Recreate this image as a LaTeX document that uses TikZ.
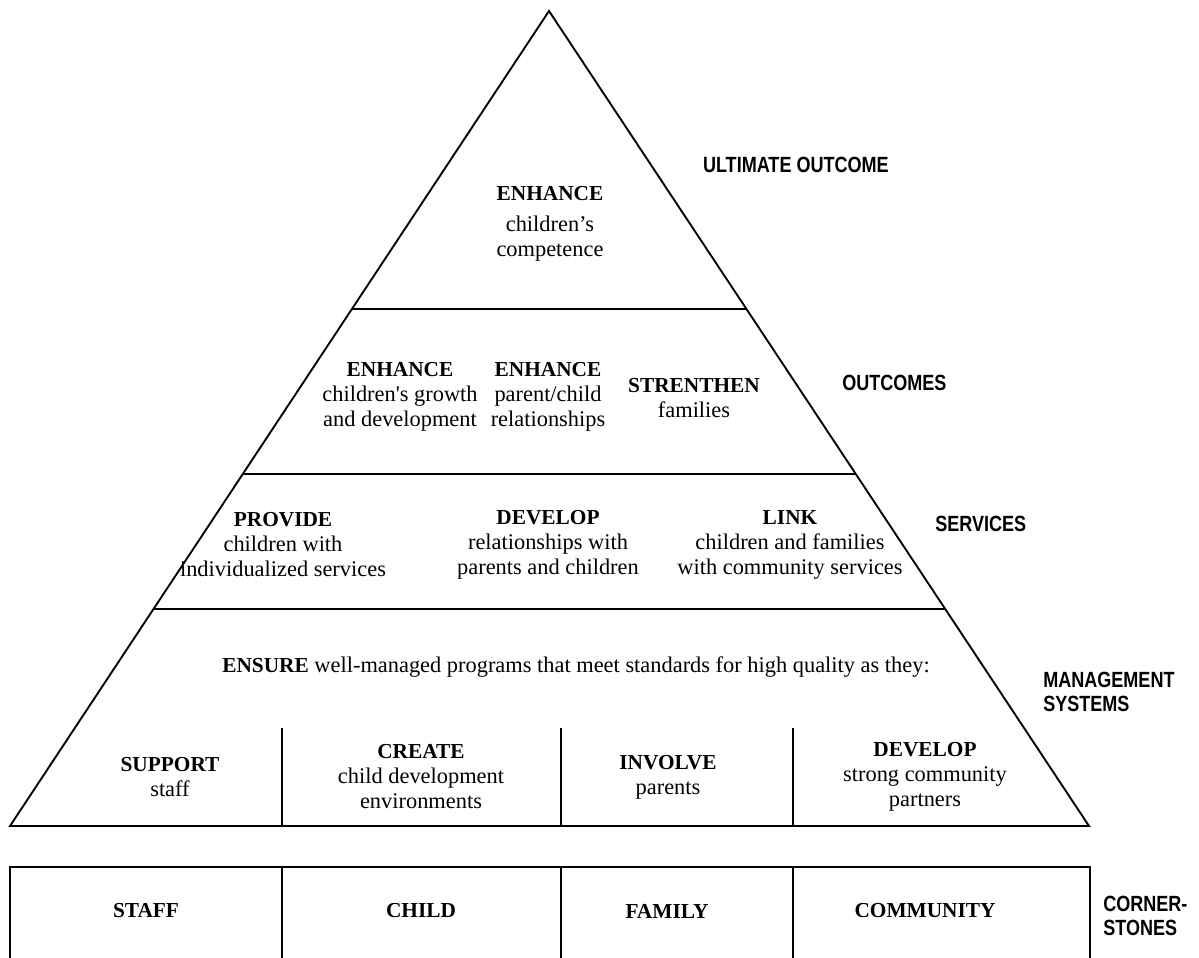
\documentclass[tikz,border=0pt]{standalone}
\usepackage{fontspec}
\setmainfont{Liberation Serif}
\newfontfamily\plainserif{Liberation Serif}
\newfontfamily\labfont[FakeStretch=0.82]{Liberation Sans}
\newcommand\hd[1]{{\fontsize{16}{18.75}\selectfont\bfseries #1}}
\newcommand\apos{{\plainserif'}}
\begin{document}
\begin{tikzpicture}[x=0.75pt,y=-0.75pt,
  edge/.style={line width=1.4pt,line join=miter},
  txt/.style={align=center,inner sep=0pt,font=\fontsize{16.8}{18.75}\selectfont},
  lab/.style={align=left,inner sep=0pt,anchor=west,font=\labfont\bfseries\fontsize{16.5}{18}\selectfont}]
\useasboundingbox (0,0) rectangle (1199,957);
% pyramid
\coordinate (apex) at (549,11);
\coordinate (bl) at (10,826);
\coordinate (br) at (1089,826);
\draw[edge] (bl) -- (apex) -- (br) -- cycle;
\coordinate (l1a) at (352,309); \coordinate (l1b) at (746,309);
\coordinate (l2a) at (242.5,474); \coordinate (l2b) at (855.5,474);
\coordinate (l3a) at (153,609); \coordinate (l3b) at (945,609);
\draw[edge] (l1a) -- (l1b);
\draw[edge] (l2a) -- (l2b);
\draw[edge] (l3a) -- (l3b);
\foreach \xx in {282,561,793}{
  \draw[edge] (\xx,728) -- (\xx,826);
}
% cornerstones box
\draw[edge] (10,962) -- (10,867) -- (1090,867) -- (1090,962);
\foreach \xx in {282,561,793}{
  \draw[edge] (\xx,867) -- (\xx,962);
}
% texts
\node[txt] (t0) at (550,224) {\hd{ENHANCE}\\[4.5pt]children’s\\competence};
\node[txt] (o1) at (400,397) {\hd{ENHANCE}\\children\apos s growth\\and development};
\node[txt] (o2) at (548,397) {\hd{ENHANCE}\\parent/child\\relationships};
\node[txt] (o3) at (694,398) {\hd{STRENTHEN}\\families};
\node[txt] (s1) at (283,545) {\hd{PROVIDE}\\children with\\individualized services};
\node[txt] (s2) at (548,545) {\hd{DEVELOP}\\relationships with\\parents and children};
\node[txt] (s3) at (790,545) {\hd{LINK}\\children and families\\with community services};
\node[txt] (m0) at (576,667) {\hd{ENSURE} well-managed programs that meet standards for high quality as they:};
\node[txt] (m1) at (170,777) {\hd{SUPPORT}\\staff};
\node[txt] (m2) at (421,777) {\hd{CREATE}\\child development\\environments};
\node[txt] (m3) at (668,777) {\hd{INVOLVE}\\parents};
\node[txt] (m4) at (925,777) {\hd{DEVELOP}\\strong community\\partners};
\node[txt] (c1) at (146,911) {\hd{STAFF}};
\node[txt] (c2) at (421,911) {\hd{CHILD}};
\node[txt] (c3) at (667,911) {\hd{FAMILY}};
\node[txt] (c4) at (925,911) {\hd{COMMUNITY}};
% side labels
\node[lab,anchor=east] (L1) at (889,165) {ULTIMATE OUTCOME};
\node[lab] (L2) at (842,383) {OUTCOMES};
\node[lab] (L3) at (935,524) {SERVICES};
\node[lab] (L4) at (1043,692) {MANAGEMENT\\SYSTEMS};
\node[lab] (L5) at (1103,916) {CORNER-\\STONES};
\end{tikzpicture}
\end{document}
